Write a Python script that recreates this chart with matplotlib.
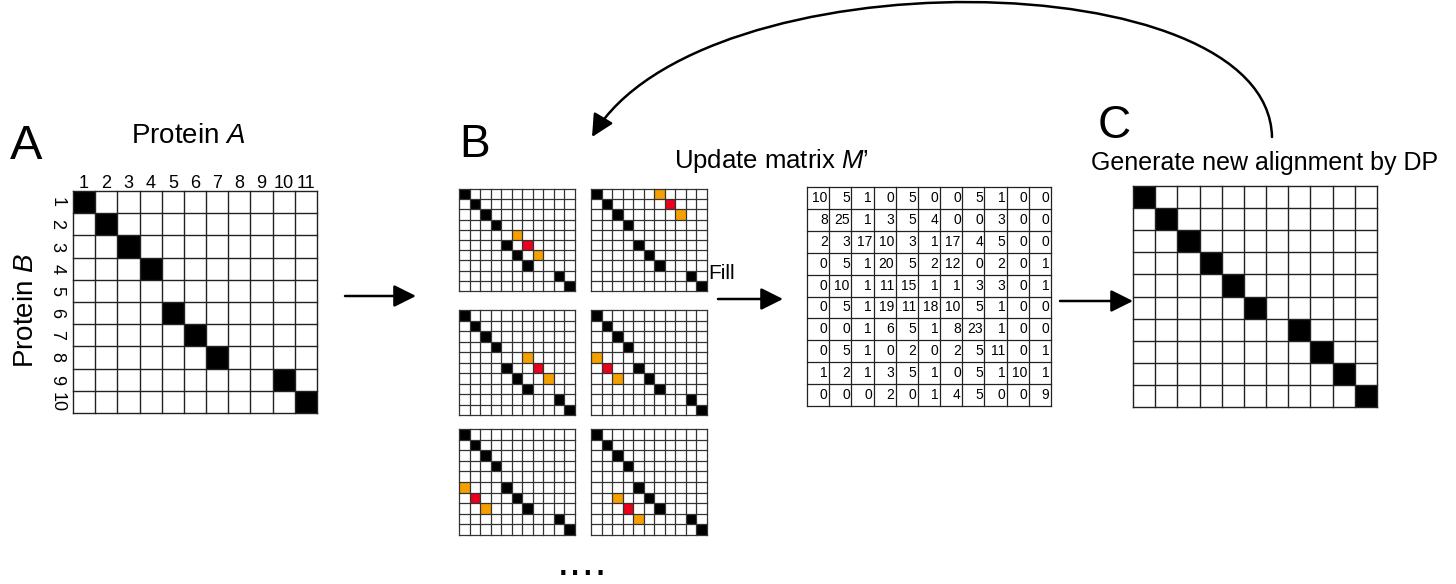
import numpy as np
import matplotlib
matplotlib.use('Agg')
import matplotlib.pyplot as plt
from matplotlib.patches import Rectangle, FancyArrowPatch
from matplotlib.path import Path

plt.rcParams['font.family'] = 'Liberation Sans'
plt.rcParams['mathtext.fontset'] = 'custom'
plt.rcParams['mathtext.it'] = 'Liberation Sans:italic'
plt.rcParams['mathtext.rm'] = 'Liberation Sans'

# alignment of protein B residues (rows) onto protein A residues (columns), 0 = gap
n_rows, n_cols = 10, 11
align_A = [1, 2, 3, 4, 0, 5, 6, 7, 10, 11]
align_C = [1, 2, 3, 4, 5, 6, 8, 9, 10, 11]

# seed pairs (row, col) marked red in each small grid of panel B
seeds_B = [(6, 7), (2, 8), (6, 8), (6, 2), (7, 2), (8, 4)]

# matrix M'
M_prime = [
    [10, 5, 1, 0, 5, 0, 0, 5, 1, 0, 0],
    [8, 25, 1, 3, 5, 4, 0, 0, 3, 0, 0],
    [2, 3, 17, 10, 3, 1, 17, 4, 5, 0, 0],
    [0, 5, 1, 20, 5, 2, 12, 0, 2, 0, 1],
    [0, 10, 1, 11, 15, 1, 1, 3, 3, 0, 1],
    [0, 5, 1, 19, 11, 18, 10, 5, 1, 0, 0],
    [0, 0, 1, 6, 5, 1, 8, 23, 1, 0, 0],
    [0, 5, 1, 0, 2, 0, 2, 5, 11, 0, 1],
    [1, 2, 1, 3, 5, 1, 0, 5, 1, 10, 1],
    [0, 0, 0, 2, 0, 1, 4, 5, 0, 0, 9],
]

ORANGE = '#f5a000'
RED = '#e8001c'


def draw_grid(ax, x0, y0, x1, y1, fills, lw=0.9, color='#222222'):
    cw = (x1 - x0) / n_cols
    ch = (y1 - y0) / n_rows
    for (r, c), fc in fills.items():
        ax.add_patch(Rectangle((x0 + (c - 1) * cw, y0 + (r - 1) * ch), cw, ch,
                               facecolor=fc, edgecolor='none', zorder=1))
    for i in range(n_cols + 1):
        ax.plot([x0 + i * cw] * 2, [y0, y1], color=color, lw=lw, zorder=2)
    for j in range(n_rows + 1):
        ax.plot([x0, x1], [y0 + j * ch] * 2, color=color, lw=lw, zorder=2)
    return cw, ch


def alignment_fills(align):
    return {(r + 1, c): 'black' for r, c in enumerate(align) if c > 0}


fig = plt.figure(figsize=(14.56, 5.84), dpi=100)
ax = fig.add_axes([0, 0, 1, 1])
ax.set_xlim(0, 1456)
ax.set_ylim(584, 0)
ax.axis('off')

# ---- Panel A
ax.text(26, 159, 'A', fontsize=35, ha='center', va='baseline')
ax.text(188, 143, 'Protein $\\mathit{A}$', fontsize=20, ha='center', va='baseline')
ax.text(26, 310, 'Protein $\\mathit{B}$', fontsize=20, ha='center', va='center', rotation=90)
ax_x0, ax_y0, ax_x1, ax_y1 = 73, 191, 317, 413
cw, ch = draw_grid(ax, ax_x0, ax_y0, ax_x1, ax_y1, alignment_fills(align_A), lw=1.0)
for i in range(n_cols):
    ax.text(ax_x0 + (i + 0.5) * cw, 188, str(i + 1), fontsize=13, ha='center', va='baseline')
for j in range(n_rows):
    ax.text(57, ax_y0 + (j + 0.5) * ch, str(j + 1), fontsize=13, ha='center', va='center',
            rotation=270)

# ---- Panel B
ax.text(475, 157, 'B', fontsize=33, ha='center', va='baseline')
col_x = [(459, 575), (591, 707)]
row_y = [(189, 291), (310, 415), (429, 535)]
for k, (r, c) in enumerate(seeds_B):
    fills = alignment_fills(align_A)
    fills[(r - 1, c - 1)] = ORANGE
    fills[(r, c)] = RED
    fills[(r + 1, c + 1)] = ORANGE
    gx0, gx1 = col_x[k % 2]
    gy0, gy1 = row_y[k // 2]
    draw_grid(ax, gx0, gy0, gx1, gy1, fills, lw=0.9, color='#333333')
ax.text(582, 584, '....', fontsize=29, family='DejaVu Sans', ha='center', va='bottom')

# ---- Matrix M'
ax.text(771, 168, 'Update matrix $\\mathit{M}$\u2019', fontsize=18.5, ha='center', va='baseline')
mx0, my0, mx1, my1 = 807, 187, 1051, 406
cw, ch = draw_grid(ax, mx0, my0, mx1, my1, {}, lw=0.9)
for j, row in enumerate(M_prime):
    for i, v in enumerate(row):
        ax.text(mx0 + (i + 1) * cw - 1.5, my0 + (j + 0.5) * ch, str(v), fontsize=10,
                ha='right', va='center')
ax.text(722, 279, 'Fill', fontsize=15, ha='center', va='baseline')

# ---- Panel C
ax.text(1114, 138, 'C', fontsize=33, ha='center', va='baseline')
ax.text(1265, 170, 'Generate new alignment by DP', fontsize=18, ha='center', va='baseline')
draw_grid(ax, 1133, 186, 1377, 407, alignment_fills(align_C), lw=1.0)

# ---- arrows
arrow_kw = dict(arrowstyle='-|>,head_length=0.9,head_width=0.45', color='black', lw=1.8,
                mutation_scale=15, shrinkA=0, shrinkB=0)
ax.add_patch(FancyArrowPatch((345, 296), (416, 296), **arrow_kw))
ax.add_patch(FancyArrowPatch((718, 299), (783, 299), **arrow_kw))
ax.add_patch(FancyArrowPatch((1060, 301), (1133, 301), **arrow_kw))

loop = Path([(1272, 137), (1268, -40), (700, -45), (592, 137)],
            [Path.MOVETO, Path.CURVE4, Path.CURVE4, Path.CURVE4])
ax.add_patch(FancyArrowPatch(path=loop, **arrow_kw))

fig.savefig('out.png', dpi=100)
